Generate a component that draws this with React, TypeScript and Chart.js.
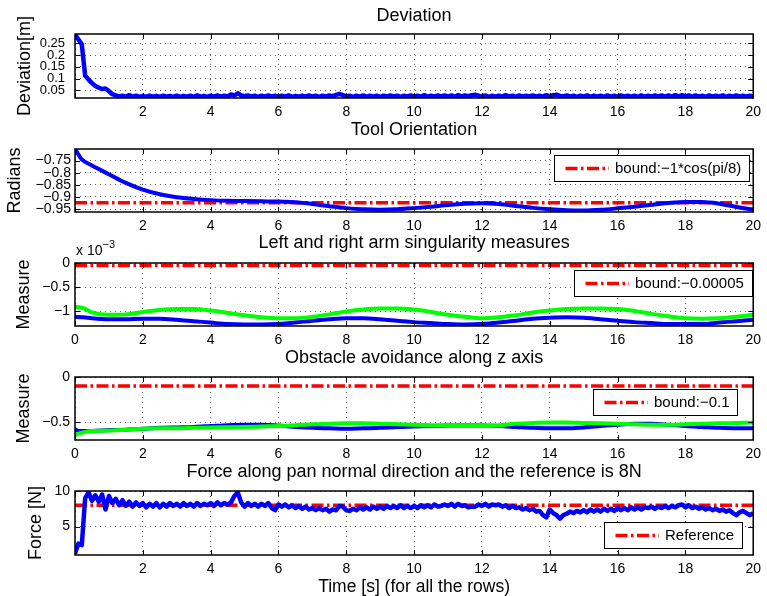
import React, { useEffect, useRef } from "react";
import { Chart, registerables } from "chart.js";
Chart.register(...registerables);

const FONT = '"Liberation Sans", Arial, Helvetica, sans-serif';
Chart.defaults.font.family = FONT;

const BLUE = "#0000ff";
const GREEN = "#00ff00";
const RED = "#ff0000";
const GRID = "rgba(0,0,0,0.6)";
const DASH_DOT = [12, 3.5, 2.5, 3.5];

// ---------- shared x axis ----------
const X_TICKS = [0, 2, 4, 6, 8, 10, 12, 14, 16, 18, 20];
const T_FINE = Array.from({ length: 201 }, (_, i) => i / 10); // sample times, 0.1 s

// ---------- panel 1: Deviation ----------
const DEV = [
  0.288, 0.266, 0.245, 0.112, 0.096, 0.081, 0.069, 0.062, 0.056, 0.058,
  0.047, 0.034, 0.029, 0.025, 0.028, 0.024, 0.030, 0.024, 0.028, 0.023,
  0.027, 0.023, 0.028, 0.024, 0.027, 0.023, 0.028, 0.024, 0.027, 0.023,
  0.028, 0.023, 0.027, 0.024, 0.028, 0.023, 0.029, 0.024, 0.027, 0.023,
  0.028, 0.024, 0.029, 0.024, 0.028, 0.025, 0.033, 0.028, 0.038, 0.029,
  0.026, 0.029, 0.024, 0.028, 0.023, 0.028, 0.024, 0.029, 0.024, 0.028,
  0.023, 0.028, 0.024, 0.029, 0.023, 0.027, 0.024, 0.028, 0.024, 0.029,
  0.024, 0.028, 0.023, 0.028, 0.024, 0.029, 0.026, 0.031, 0.035, 0.030,
  0.024, 0.028, 0.023, 0.028, 0.024, 0.029, 0.023, 0.028, 0.024, 0.028,
  0.023, 0.028, 0.024, 0.029, 0.024, 0.028, 0.023, 0.028, 0.024, 0.029,
  0.024, 0.028, 0.024, 0.030, 0.024, 0.028, 0.024, 0.029, 0.025, 0.029,
  0.024, 0.029, 0.024, 0.030, 0.025, 0.029, 0.026, 0.030, 0.032, 0.028,
  0.024, 0.029, 0.023, 0.028, 0.024, 0.028, 0.024, 0.030, 0.024, 0.028,
  0.023, 0.029, 0.024, 0.028, 0.025, 0.029, 0.024, 0.028, 0.024, 0.030,
  0.025, 0.030, 0.032, 0.027, 0.025, 0.029, 0.024, 0.028, 0.023, 0.028,
  0.024, 0.029, 0.023, 0.028, 0.024, 0.028, 0.023, 0.029, 0.024, 0.028,
  0.023, 0.029, 0.024, 0.028, 0.024, 0.028, 0.023, 0.029, 0.024, 0.028,
  0.024, 0.029, 0.025, 0.029, 0.024, 0.029, 0.024, 0.030, 0.025, 0.030,
  0.025, 0.029, 0.024, 0.029, 0.024, 0.028, 0.023, 0.029, 0.024, 0.028,
  0.024, 0.029, 0.023, 0.028, 0.024, 0.029, 0.024, 0.028, 0.024, 0.028,
  0.025,
];
const DEV_TICKS = [0.05, 0.1, 0.15, 0.2, 0.25];

// ---------- panel 2: Tool Orientation ----------
const T_ORIENT = [0, 0.1, 0.2, 0.5, 1, 1.5, 2, 2.5, 3, 3.5, 4, 4.5, 5, 5.5, 6, 6.5, 7, 7.5, 8, 8.5, 9, 9.5, 10, 10.5, 11, 11.5, 12, 12.5, 13, 13.5, 14, 14.5, 15, 15.5, 16, 16.5, 17, 17.5, 18, 18.5, 19, 19.5, 20];
const ORIENT = [-0.702, -0.725, -0.745, -0.77, -0.806, -0.842, -0.87, -0.889, -0.901, -0.908, -0.913, -0.916, -0.917, -0.918, -0.919, -0.922, -0.929, -0.938, -0.946, -0.951, -0.953, -0.951, -0.946, -0.94, -0.933, -0.928, -0.926, -0.929, -0.937, -0.945, -0.951, -0.955, -0.956, -0.953, -0.947, -0.94, -0.932, -0.925, -0.921, -0.921, -0.928, -0.941, -0.952];
const ORIENT_BOUND = -0.9239; // -1*cos(pi/8)
const ORIENT_TICKS = [-0.95, -0.9, -0.85, -0.8, -0.75];

// ---------- panel 3: singularity measures (values in units of 1e-3) ----------
const T_SING = [0, 0.25, 0.5, 1, 1.5, 2, 2.5, 3, 3.5, 4, 4.5, 5, 5.5, 6, 6.5, 7, 7.5, 8, 8.5, 9, 9.5, 10, 10.5, 11, 11.5, 12, 12.5, 13, 13.5, 14, 14.5, 15, 15.5, 16, 16.5, 17, 17.5, 18, 18.5, 19, 19.5, 20];
const SING_BLUE = [-1.11, -1.12, -1.14, -1.16, -1.16, -1.15, -1.15, -1.17, -1.2, -1.23, -1.26, -1.27, -1.27, -1.26, -1.23, -1.19, -1.16, -1.14, -1.14, -1.16, -1.19, -1.22, -1.24, -1.26, -1.27, -1.26, -1.23, -1.19, -1.15, -1.13, -1.12, -1.13, -1.16, -1.19, -1.22, -1.24, -1.26, -1.26, -1.26, -1.23, -1.2, -1.17];
const SING_GREEN = [-0.9, -0.93, -1.02, -1.07, -1.06, -1.01, -0.97, -0.95, -0.95, -0.98, -1.03, -1.08, -1.12, -1.14, -1.14, -1.11, -1.06, -1.0, -0.96, -0.94, -0.94, -0.96, -1.01, -1.07, -1.11, -1.14, -1.12, -1.08, -1.02, -0.98, -0.95, -0.94, -0.94, -0.95, -0.99, -1.05, -1.1, -1.14, -1.15, -1.14, -1.11, -1.07];
const SING_BOUND = -0.05; // -0.00005 expressed in 1e-3 units
const SING_TICKS = [-1, -0.5, 0];

// ---------- panel 4: obstacle avoidance ----------
const T_OBS = [0, 0.1, 0.3, 0.5, 1, 1.5, 2, 2.5, 3, 3.5, 4, 4.5, 5, 5.5, 6, 6.5, 7, 7.5, 8, 8.5, 9, 9.5, 10, 10.5, 11, 11.5, 12, 12.5, 13, 13.5, 14, 14.5, 15, 15.5, 16, 16.5, 17, 17.5, 18, 18.5, 19, 19.5, 20];
const OBS_BLUE = [-0.58, -0.6, -0.6, -0.6, -0.59, -0.585, -0.575, -0.565, -0.56, -0.555, -0.545, -0.535, -0.53, -0.53, -0.54, -0.555, -0.565, -0.57, -0.575, -0.57, -0.565, -0.555, -0.55, -0.545, -0.54, -0.54, -0.54, -0.545, -0.555, -0.565, -0.57, -0.57, -0.56, -0.545, -0.53, -0.52, -0.52, -0.53, -0.545, -0.555, -0.565, -0.57, -0.57];
const OBS_GREEN = [-0.645, -0.63, -0.61, -0.6, -0.595, -0.585, -0.575, -0.57, -0.57, -0.565, -0.56, -0.558, -0.555, -0.55, -0.545, -0.535, -0.525, -0.52, -0.515, -0.515, -0.52, -0.525, -0.53, -0.535, -0.54, -0.545, -0.545, -0.535, -0.52, -0.51, -0.505, -0.505, -0.51, -0.515, -0.52, -0.525, -0.53, -0.53, -0.525, -0.52, -0.515, -0.51, -0.505];
const OBS_BOUND = -0.1;
const OBS_TICKS = [-0.5, 0];

// ---------- panel 5: force ----------
const FORCE = [
  1.2, 2.6, 2.4, 9.0, 9.8, 8.6, 9.4, 8.5, 9.5, 7.4,
  9.3, 8.3, 8.9, 8.0, 8.7, 7.9, 8.5, 7.8, 8.4, 7.9,
  8.3, 7.7, 8.2, 7.8, 8.3, 7.7, 8.2, 7.8, 8.3, 7.9,
  8.2, 7.8, 8.3, 7.9, 8.2, 7.8, 8.3, 7.9, 8.2, 8.0,
  8.3, 7.9, 8.4, 8.0, 8.3, 8.1, 8.4, 9.3, 9.8, 8.4,
  7.8, 8.3, 7.9, 8.2, 7.8, 8.2, 7.9, 8.3, 7.6, 7.3,
  8.1, 7.8, 8.1, 7.7, 8.0, 7.6, 7.9, 7.5, 7.8, 7.4,
  7.6, 7.3, 7.6, 7.3, 7.5, 7.1, 7.4, 7.3, 7.9, 7.8,
  7.3, 7.2, 7.5, 7.3, 7.7, 7.4, 7.7, 7.4, 7.8, 7.5,
  7.8, 7.5, 7.9, 7.6, 7.9, 7.6, 8.0, 7.6, 7.9, 7.6,
  7.9, 7.6, 8.0, 7.7, 8.0, 7.7, 8.1, 7.8, 7.9, 8.1,
  7.9, 8.2, 7.8, 8.2, 7.9, 8.0, 7.7, 7.8, 7.8, 8.1,
  7.9, 8.2, 7.8, 8.1, 8.0, 8.1, 7.8, 8.0, 7.6, 7.9,
  7.6, 7.7, 7.4, 7.6, 7.3, 7.5, 7.1, 7.2, 6.6, 6.3,
  7.4, 6.9, 6.6, 6.1, 6.6, 6.8, 7.1, 6.9, 7.2, 7.0,
  7.3, 7.0, 7.4, 7.1, 7.4, 7.1, 7.5, 7.2, 7.5, 7.2,
  7.6, 7.3, 7.6, 7.3, 7.7, 7.4, 7.7, 7.4, 7.7, 7.6,
  7.8, 7.5, 7.8, 7.6, 7.9, 7.6, 7.9, 7.7, 8.0, 8.1,
  7.7, 8.0, 7.6, 7.8, 7.5, 7.7, 7.4, 7.6, 7.3, 7.5,
  7.2, 7.4, 7.1, 7.3, 6.9, 6.6, 7.0, 7.2, 6.9, 6.6,
  6.9,
];
const FORCE_REF = 8;
const FORCE_TICKS = [5, 10];

// ---------- helpers ----------
const pts = (t: number[], v: number[]) => t.map((x, i) => ({ x, y: v[i] }));
const hline = (y: number) => [{ x: 0, y }, { x: 20, y }];
const fmt = (v: number) => String(parseFloat(Number(v).toFixed(5))).replace("-", "\u2212");

const curve = (label: string, data: any[], color: string, order: number, smooth: boolean, width = 4) => ({
  label, data, borderColor: color, backgroundColor: color, borderWidth: width, pointRadius: 0,
  fill: false, order, tension: 0, cubicInterpolationMode: smooth ? "monotone" : "default",
  borderJoinStyle: "round",
});
const bound = (label: string, y: number) => ({
  label, data: hline(y), borderColor: RED, backgroundColor: RED, borderWidth: 3.5,
  borderDash: DASH_DOT, pointRadius: 0, fill: false, order: 2, tension: 0, showLegend: true,
});

const framePlugin = {
  id: "matlabFrame",
  afterDraw(chart: any, _args: any, opts: any) {
    const { ctx, chartArea: a, scales } = chart;
    ctx.save();
    ctx.setLineDash([]);
    ctx.strokeStyle = "#000";
    ctx.lineWidth = 1;
    const tl = 5;
    ctx.beginPath();
    scales.x.ticks.forEach((t: any) => {
      const px = Math.round(scales.x.getPixelForValue(t.value)) + 0.5;
      ctx.moveTo(px, a.bottom); ctx.lineTo(px, a.bottom - tl);
      ctx.moveTo(px, a.top); ctx.lineTo(px, a.top + tl);
    });
    scales.y.ticks.forEach((t: any) => {
      const py = Math.round(scales.y.getPixelForValue(t.value)) + 0.5;
      ctx.moveTo(a.left, py); ctx.lineTo(a.left + tl, py);
      ctx.moveTo(a.right, py); ctx.lineTo(a.right - tl, py);
    });
    ctx.stroke();
    ctx.lineWidth = 1.5;
    ctx.strokeRect(a.left, a.top, a.right - a.left, a.bottom - a.top);

    if (opts && opts.legend) {
      const d = chart.data.datasets.find((ds: any) => ds.showLegend);
      if (d) {
        ctx.font = `15px ${FONT}`;
        const tw = ctx.measureText(d.label).width;
        const lineLen = 47;
        const w = Math.round(8 + lineLen + 6 + tw + 8);
        const h = 26;
        const x = Math.round(a.right - opts.legend.right - w);
        const y = Math.round(a.top + opts.legend.top);
        ctx.fillStyle = "#fff";
        ctx.fillRect(x, y, w, h);
        ctx.strokeStyle = "#000";
        ctx.lineWidth = 1;
        ctx.strokeRect(x + 0.5, y + 0.5, w, h);
        ctx.strokeStyle = d.borderColor;
        ctx.lineWidth = 3.5;
        ctx.setLineDash(d.borderDash);
        ctx.lineDashOffset = 18;
        ctx.beginPath();
        ctx.moveTo(x + 8, y + h / 2 + 0.5);
        ctx.lineTo(x + 8 + lineLen, y + h / 2 + 0.5);
        ctx.stroke();
        ctx.setLineDash([]);
        ctx.fillStyle = "#000";
        ctx.textAlign = "left";
        ctx.textBaseline = "middle";
        ctx.fillText(d.label, x + 8 + lineLen + 6, y + h / 2 + 1);
      }
    }
    if (opts && opts.multiplier) {
      ctx.fillStyle = "#000";
      ctx.textAlign = "left";
      ctx.textBaseline = "alphabetic";
      ctx.font = `14px ${FONT}`;
      ctx.fillText(opts.multiplier[0], a.left + 1, a.top - 8);
      const w = ctx.measureText(opts.multiplier[0]).width;
      ctx.font = `11px ${FONT}`;
      ctx.fillText(opts.multiplier[1], a.left + 1 + w, a.top - 15);
    }
    ctx.restore();
  },
};

type Spec = {
  top: number; height: number; title: string; titlePad: [number, number];
  yTitle: string; yTitlePad: number; yMin: number; yMax: number; yTicks: number[];
  yTickSize: number; yTickPad: number; hideZeroX: boolean; xHeight: number;
  xTitle?: string; legend?: { right: number; top: number }; multiplier?: [string, string];
  datasets: any[];
};

const PANELS: Spec[] = [
  {
    top: 0, height: 118, title: "Deviation", titlePad: [7, 9],
    yTitle: "Deviation[m]", yTitlePad: 16, yMin: 0.018, yMax: 0.289, yTicks: DEV_TICKS,
    yTickSize: 13, yTickPad: 10, hideZeroX: true, xHeight: 20,
    datasets: [curve("", pts(T_FINE, DEV), BLUE, 1, false, 4.5)],
  },
  {
    top: 118, height: 114, title: "Tool Orientation", titlePad: [3, 10],
    yTitle: "Radians", yTitlePad: 6.5, yMin: -0.962, yMax: -0.702, yTicks: ORIENT_TICKS,
    yTickSize: 14, yTickPad: 4, hideZeroX: true, xHeight: 20,
    legend: { right: 4.5, top: 6 },
    datasets: [curve("", pts(T_ORIENT, ORIENT), BLUE, 1, true), bound("bound:\u22121*cos(pi/8)", ORIENT_BOUND)],
  },
  {
    top: 232, height: 114, title: "Left and right arm singularity measures", titlePad: [2, 11],
    yTitle: "Measure", yTitlePad: 15.5, yMin: -1.3, yMax: 0, yTicks: SING_TICKS,
    yTickSize: 14, yTickPad: 5, hideZeroX: false, xHeight: 20,
    legend: { right: 1, top: 7 }, multiplier: ["x 10", "\u22123"],
    datasets: [
      curve("", pts(T_SING, SING_GREEN), GREEN, 0, true),
      curve("", pts(T_SING, SING_BLUE), BLUE, 1, true),
      bound("bound:\u22120.00005", SING_BOUND),
    ],
  },
  {
    top: 346, height: 116, title: "Obstacle avoidance along z axis", titlePad: [3.3, 9.7],
    yTitle: "Measure", yTitlePad: 15.5, yMin: -0.7, yMax: 0, yTicks: OBS_TICKS,
    yTickSize: 14, yTickPad: 5, hideZeroX: false, xHeight: 22,
    legend: { right: 16.5, top: 12.3 },
    datasets: [
      curve("", pts(T_OBS, OBS_GREEN), GREEN, 0, true),
      curve("", pts(T_OBS, OBS_BLUE), BLUE, 1, true),
      bound("bound:\u22120.1", OBS_BOUND),
    ],
  },
  {
    top: 462, height: 134, title: "Force along pan normal direction and the reference is 8N", titlePad: [0.7, 10.3],
    yTitle: "Force [N]", yTitlePad: 27, yMin: 1, yMax: 10, yTicks: FORCE_TICKS,
    yTickSize: 14, yTickPad: 5, hideZeroX: true, xHeight: 41, xTitle: "Time [s] (for all the rows)",
    legend: { right: 11, top: 30.7 },
    datasets: [curve("", pts(T_FINE, FORCE), BLUE, 1, false, 4.5), bound("Reference", FORCE_REF)],
  },
];

function buildConfig(p: Spec): any {
  const titleFont = { family: FONT, size: 18, weight: "normal", lineHeight: 1 };
  return {
    type: "line",
    data: { datasets: p.datasets },
    options: {
      animation: false,
      responsive: false,
      devicePixelRatio: 1,
      events: [],
      layout: { padding: { left: 0, right: 9.5, top: 0, bottom: 0 } },
      plugins: {
        legend: { display: false },
        tooltip: { enabled: false },
        title: {
          display: true, text: p.title, fullSize: false, color: "#000", font: titleFont,
          padding: { top: p.titlePad[0], bottom: p.titlePad[1] },
        },
        matlabFrame: { legend: p.legend, multiplier: p.multiplier },
      },
      scales: {
        x: {
          type: "linear", min: 0, max: 20,
          afterBuildTicks: (s: any) => { s.ticks = X_TICKS.map((v) => ({ value: v })); },
          afterFit: (s: any) => { s.height = p.xHeight; },
          grid: { color: GRID, lineWidth: 1, drawTicks: false, borderDash: [1, 4] },
          border: { display: false, dash: [1, 4] },
          ticks: {
            autoSkip: false, maxRotation: 0, padding: 6, color: "#000",
            font: { family: FONT, size: 14 },
            callback: (v: any) => (p.hideZeroX && Number(v) === 0 ? "" : fmt(v)),
          },
          title: p.xTitle
            ? { display: true, text: p.xTitle, color: "#000", font: { family: FONT, size: 17.5, lineHeight: 1 }, padding: { top: 0, bottom: 0 } }
            : { display: false },
        },
        y: {
          type: "linear", min: p.yMin, max: p.yMax,
          afterBuildTicks: (s: any) => { s.ticks = p.yTicks.map((v) => ({ value: v })); },
          afterFit: (s: any) => { s.width = 75; },
          grid: { color: GRID, lineWidth: 1, drawTicks: false, borderDash: [1, 4] },
          border: { display: false, dash: [1, 4] },
          ticks: {
            autoSkip: false, padding: p.yTickPad, color: "#000",
            font: { family: FONT, size: p.yTickSize },
            callback: (v: any) => fmt(v),
          },
          title: {
            display: true, text: p.yTitle, color: "#000", font: titleFont,
            padding: { top: p.yTitlePad, bottom: 0 },
          },
        },
      },
    },
    plugins: [framePlugin],
  };
}

function Panel({ spec }: { spec: Spec }) {
  const ref = useRef<HTMLCanvasElement>(null);
  useEffect(() => {
    const chart = new Chart(ref.current as HTMLCanvasElement, buildConfig(spec));
    return () => chart.destroy();
  }, [spec]);
  return (
    <canvas
      ref={ref}
      width={767}
      height={spec.height}
      style={{ position: "absolute", left: 0, top: spec.top, display: "block" }}
    />
  );
}

export default function App() {
  return (
    <div style={{ position: "absolute", left: 0, top: 0, width: 767, height: 596, background: "#fff", overflow: "hidden" }}>
      {PANELS.map((p, i) => (
        <Panel key={i} spec={p} />
      ))}
    </div>
  );
}
